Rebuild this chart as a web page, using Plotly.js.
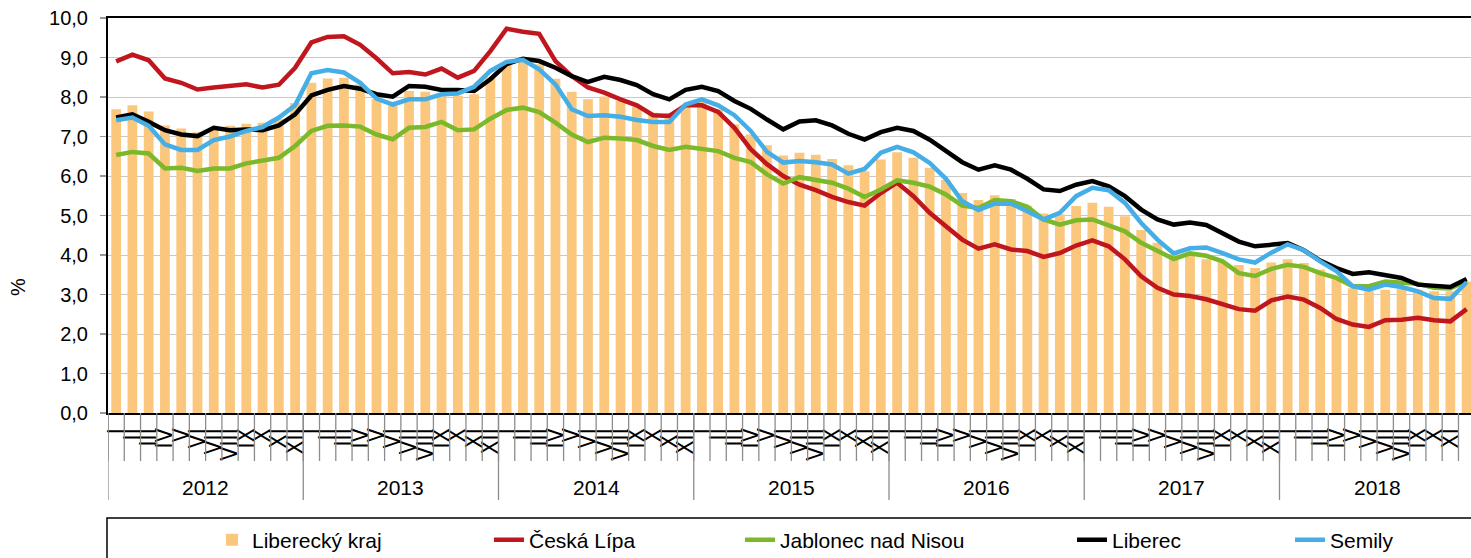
<!DOCTYPE html>
<html>
<head>
<meta charset="utf-8">
<script src="https://cdn.plot.ly/plotly-3.0.1.min.js"></script>
<style>html,body{margin:0;padding:0;background:#fff;}#chart{width:1471px;height:558px;}</style>
</head>
<body>
<div id="chart"></div>
<script>
const years = ["2012","2013","2014","2015","2016","2017","2018"];
const months = ["I","II","III","IV","V","VI","VII","VIII","IX","X","XI","XII"];

const liberecky_kraj = [
 7.69,7.79,7.63,7.28,7.20,7.11,7.22,7.27,7.32,7.35,7.45,7.85,
 8.36,8.47,8.49,8.32,7.94,7.77,8.15,8.13,8.04,8.03,8.07,8.50,
 8.87,8.94,8.83,8.46,8.13,7.94,8.01,7.90,7.76,7.60,7.59,7.79,
 7.90,7.69,7.31,7.05,6.78,6.52,6.59,6.54,6.43,6.27,6.12,6.42,
 6.60,6.46,6.21,5.90,5.57,5.39,5.51,5.42,5.25,5.05,5.03,5.24,
 5.32,5.22,4.98,4.63,4.31,4.02,4.02,3.89,3.81,3.75,3.67,3.81,
 3.89,3.80,3.63,3.40,3.16,3.08,3.12,3.14,3.12,3.08,3.08,3.33];
const ceska_lipa = [
 8.90,9.07,8.93,8.47,8.36,8.19,8.24,8.29,8.32,8.24,8.31,8.74,
 9.38,9.52,9.54,9.32,8.98,8.60,8.63,8.57,8.72,8.49,8.66,9.16,
 9.73,9.65,9.60,8.91,8.53,8.24,8.11,7.94,7.79,7.54,7.52,7.79,
 7.79,7.62,7.22,6.68,6.30,6.00,5.78,5.64,5.47,5.34,5.25,5.57,
 5.83,5.49,5.07,4.73,4.39,4.16,4.27,4.14,4.10,3.95,4.05,4.24,
 4.37,4.22,3.89,3.46,3.17,3.00,2.96,2.88,2.76,2.63,2.59,2.85,
 2.95,2.87,2.66,2.38,2.24,2.18,2.35,2.36,2.41,2.35,2.32,2.63];
const jablonec = [
 6.53,6.61,6.57,6.19,6.21,6.13,6.19,6.19,6.32,6.39,6.46,6.76,
 7.14,7.27,7.28,7.25,7.05,6.93,7.22,7.24,7.37,7.16,7.18,7.45,
 7.67,7.73,7.62,7.35,7.05,6.86,6.97,6.95,6.91,6.76,6.66,6.74,
 6.69,6.63,6.46,6.35,6.04,5.81,5.97,5.91,5.83,5.68,5.47,5.66,
 5.89,5.83,5.73,5.53,5.25,5.19,5.39,5.36,5.22,4.90,4.77,4.88,
 4.90,4.75,4.60,4.31,4.10,3.90,4.04,3.98,3.84,3.54,3.47,3.65,
 3.75,3.70,3.54,3.42,3.21,3.21,3.33,3.31,3.27,3.17,3.15,3.35];
const liberec = [
 7.48,7.56,7.37,7.16,7.05,7.01,7.22,7.16,7.18,7.16,7.28,7.56,
 8.04,8.18,8.28,8.21,8.07,8.01,8.28,8.26,8.18,8.18,8.15,8.45,
 8.83,8.97,8.91,8.74,8.53,8.38,8.51,8.43,8.30,8.07,7.94,8.18,
 8.26,8.15,7.90,7.70,7.43,7.18,7.38,7.41,7.28,7.07,6.92,7.11,
 7.22,7.14,6.92,6.63,6.35,6.16,6.27,6.16,5.93,5.66,5.62,5.78,
 5.87,5.74,5.49,5.15,4.90,4.77,4.82,4.76,4.55,4.34,4.22,4.27,
 4.30,4.12,3.86,3.67,3.52,3.56,3.50,3.42,3.25,3.21,3.19,3.39];
const semily = [
 7.41,7.48,7.27,6.80,6.66,6.66,6.91,7.00,7.14,7.24,7.48,7.79,
 8.60,8.68,8.62,8.36,7.96,7.81,7.94,7.94,8.07,8.09,8.26,8.66,
 8.89,8.94,8.70,8.32,7.69,7.52,7.54,7.50,7.42,7.37,7.37,7.81,
 7.94,7.79,7.54,7.14,6.61,6.34,6.38,6.35,6.29,6.06,6.18,6.59,
 6.74,6.60,6.33,5.93,5.36,5.14,5.30,5.30,5.11,4.90,5.07,5.49,
 5.70,5.64,5.32,4.81,4.39,4.04,4.17,4.19,4.05,3.89,3.81,4.06,
 4.27,4.12,3.84,3.59,3.21,3.12,3.25,3.19,3.08,2.91,2.89,3.31];

const seriesNames = ["Liberecký kraj","Česká Lípa","Jablonec nad Nisou","Liberec","Semily"];

const FONT = "Liberation Sans, Arial, Helvetica, sans-serif";
const NARROW = "Liberation Sans Narrow, Arial Narrow, DejaVu Sans Condensed, sans-serif";
const idx = [];
const tickText = [];
years.forEach((y, yi) => months.forEach((m, mi) => { idx.push(yi*12+mi); tickText.push(m); }));

const traces = [
  {type:"bar", x: idx, y: liberecky_kraj, name: seriesNames[0], marker:{color:"#FAC77D"}, legend:"legend"},
  {type:"scatter", mode:"lines", x: idx, y: ceska_lipa, name: seriesNames[1], line:{color:"#C0171F", width:4.5}, legend:"legend2"},
  {type:"scatter", mode:"lines", x: idx, y: jablonec, name: seriesNames[2], line:{color:"#7BB82A", width:4.5}, legend:"legend3"},
  {type:"scatter", mode:"lines", x: idx, y: liberec, name: seriesNames[3], line:{color:"#000000", width:4.5}, legend:"legend4"},
  {type:"scatter", mode:"lines", x: idx, y: semily, name: seriesNames[4], line:{color:"#45AEE6", width:4.5}, legend:"legend5"}
];

const W = 1471, H = 558;
const plotL = 108, plotT = 18, plotB = 413, plotW = W - 108, plotH = plotB - plotT;
const px2paperY = py => (plotB - py) / plotH;
const px2paperX = px => (px - plotL) / plotW;

const shapes = [];
// month separators
for (let k = 0; k <= idx.length; k++) {
  shapes.push({type:"line", xref:"x", yref:"paper", x0:k-0.5, x1:k-0.5, y0:0, y1:px2paperY(461),
    line:{color:"#8c8c8c", width:1.3}});
}
// year dividers
for (let k = 0; k <= years.length; k++) {
  shapes.push({type:"line", xref:"x", yref:"paper", x0:k*12-0.5, x1:k*12-0.5, y0:0, y1:px2paperY(500),
    line:{color:"#8c8c8c", width:1.3}});
}
// legend frame
shapes.push({type:"rect", xref:"paper", yref:"paper", x0:px2paperX(107), x1:1.05, y0:px2paperY(518), y1:px2paperY(620),
  line:{color:"#000", width:1.5}, fillcolor:"rgba(0,0,0,0)"});

const annotations = years.map((y, yi) => ({
  text: y, xref:"x", yref:"paper", x: yi*12 + 5.5, y: px2paperY(487), showarrow:false,
  xanchor:"center", yanchor:"middle", font:{family:FONT, size:21, color:"#000"}
}));
annotations.push({text:"%", xref:"paper", yref:"paper", x:px2paperX(18), y:px2paperY(287), showarrow:false,
  textangle:-90, xanchor:"center", yanchor:"middle", font:{family:FONT, size:20, color:"#000"}});

const legendText = [255, 532, 783, 1115, 1333];
const legendBase = {orientation:"h", yanchor:"middle", xanchor:"left", xref:"container", yref:"container",
  y: 1 - 540/H, font:{family:FONT, size:21, color:"#000"}, bgcolor:"rgba(0,0,0,0)", borderwidth:0};
const legendAt = px => Object.assign({}, legendBase, {x: (px - 43) / W});
const layout = {
  width:W, height:H,
  margin:{l:108, r:0, t:18, b:145, pad:0, autoexpand:false},
  paper_bgcolor:"#fff", plot_bgcolor:"#fff",
  separators:", ",
  font:{family:FONT, color:"#000"},
  bargap:0.4,
  showlegend:true,
  xaxis:{type:"linear", range:[-0.5, 83.27], tickmode:"array", tickvals:idx, ticktext:tickText,
    tickangle:-90, ticks:"", showgrid:false, zeroline:false, showline:true, linecolor:"#000", linewidth:2,
    mirror:true, tickfont:{family:NARROW, size:23, color:"#000"}, ticklabelstandoff:4, fixedrange:true,
    automargin:false},
  yaxis:{range:[0,10], dtick:1, tick0:0, tickformat:".1f", ticks:"outside", ticklen:6, tickcolor:"#999",
    tickwidth:1.5, showline:true, linecolor:"#000", linewidth:2, showgrid:true, gridcolor:"#c8c8c8",
    gridwidth:1, zeroline:false, tickfont:{family:FONT, size:20, color:"#000"}, ticklabelstandoff:8,
    automargin:false},
  shapes: shapes,
  annotations: annotations,
  legend: legendAt(legendText[0]),
  legend2: legendAt(legendText[1]),
  legend3: legendAt(legendText[2]),
  legend4: legendAt(legendText[3]),
  legend5: legendAt(legendText[4])
};

Plotly.newPlot("chart", traces, layout, {staticPlot:true, displayModeBar:false});
</script>
</body>
</html>
